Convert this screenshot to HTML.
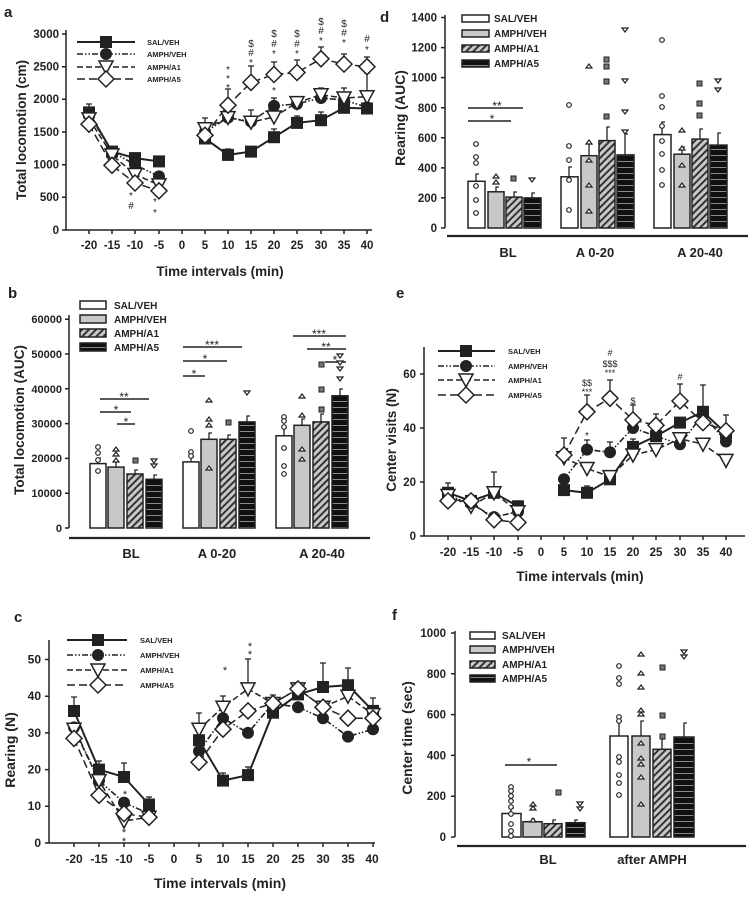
<!DOCTYPE html>
<html><head><meta charset="utf-8"><style>
html,body{margin:0;padding:0;background:#fff;}
svg{display:block;font-family:"Liberation Sans",Arial,sans-serif;font-weight:bold;}
</style></head><body>
<svg width="751" height="899" viewBox="0 0 751 899" xmlns="http://www.w3.org/2000/svg">
<defs>
<pattern id="hatch" width="5" height="5" patternUnits="userSpaceOnUse" patternTransform="rotate(45)">
<rect width="5" height="5" fill="#c8c8c8"/><rect width="2" height="5" fill="#333"/></pattern>
<pattern id="horiz" width="4" height="6" patternUnits="userSpaceOnUse">
<rect width="4" height="6" fill="#111"/><rect y="5" width="4" height="0.7" fill="#bbb"/></pattern>
<g id="sq"><rect x="-6" y="-6" width="12" height="12" fill="#222"/></g>
<g id="ci"><circle r="6" fill="#222"/></g>
<g id="tr"><path d="M-7,-6 L7,-6 L0,7 Z" fill="#fff" stroke="#222" stroke-width="1.5"/></g>
<g id="di"><path d="M0,-8 L8,0 L0,8 L-8,0 Z" fill="#fff" stroke="#222" stroke-width="1.5"/></g>
</defs>

<g fill="#222" font-size="15"><text x="4" y="17">a</text><text x="8" y="298">b</text><text x="14" y="622">c</text><text x="380" y="22">d</text><text x="396" y="298">e</text><text x="392" y="620">f</text></g>

<!-- ===== Panel a ===== -->
<g stroke="#222" stroke-width="1.5" fill="none">
<line x1="66" y1="30" x2="66" y2="230"/><line x1="66" y1="230" x2="372" y2="230"/>
<path d="M62,230h4M62,197.3h4M62,164.7h4M62,132h4M62,99.3h4M62,66.7h4M62,34h4"/>
<path d="M89,230v4M112,230v4M135,230v4M159,230v4M182,230v4M205,230v4M228,230v4M251,230v4M274,230v4M297,230v4M321,230v4M344,230v4M367,230v4"/>
</g>
<g font-size="11.5" fill="#222" text-anchor="end">
<text x="59" y="234">0</text><text x="59" y="201">500</text><text x="59" y="168.7">1000</text><text x="59" y="136">1500</text><text x="59" y="103">2000</text><text x="59" y="70.7">2500</text><text x="59" y="38">3000</text></g>
<g font-size="11.5" fill="#222" text-anchor="middle">
<text x="89" y="249">-20</text><text x="112" y="249">-15</text><text x="135" y="249">-10</text><text x="159" y="249">-5</text><text x="182" y="249">0</text><text x="205" y="249">5</text><text x="228" y="249">10</text><text x="251" y="249">15</text><text x="274" y="249">20</text><text x="297" y="249">25</text><text x="321" y="249">30</text><text x="344" y="249">35</text><text x="367" y="249">40</text>
<text x="220" y="276" font-size="13.5">Time intervals (min)</text>
<text transform="translate(26,130) rotate(-90)" font-size="13.5">Total locomotion (cm)</text></g>
<!-- error bars a -->
<g stroke="#222" stroke-width="1.3" fill="none">
<path d="M89,112v-8h-3h6M112,152v-5M205,132v-14h-3h6M228,105v-16h-3h6M251,82v-16h-3h6M274,74v-12h-3h6M297,72v-12h-3h6M321,59v-12h-3h6M344,64v-10h-3h6M367,67v-10h-3h6M274,106v-8h-3h6M297,104v-8M321,98v-10h-3h6M344,100v-12h-3h6M367,97v-24h-3h6M251,122v-12h-3h6M297,123v-7h-3h6M321,120v-8h-3h6M274,137v-8h-3h6M228,155v-6h-3h6"/>
</g>
<g fill="none" stroke="#222">
<polyline stroke-width="2" points="89,112.4 112,151.6 135,158.1 159,161.4"/>
<polyline stroke-width="2" points="205,138.5 228,154.9 251,151.6 274,137.2 297,122.9 321,120.2 344,107.8 367,108.5"/>
<g stroke-width="1.6" stroke-dasharray="6,2,1.5,2,1.5,2"><polyline points="89,114.4 112,151.6 135,164.7 159,176.4"/><polyline points="205,132 228,117.6 251,121.6 274,105.9 297,103.9 321,98 344,100 367,107.2"/></g>
<g stroke-width="1.5" stroke-dasharray="6,3"><polyline points="89,118.9 112,154.9 135,174.5 159,184.9"/><polyline points="205,128.7 228,117.6 251,122.2 274,117 297,102.6 321,94.8 344,98 367,96.7"/></g>
<g stroke-width="1.5" stroke-dasharray="8,4"><polyline points="89,124.2 112,165.3 135,183 159,190.8"/><polyline points="205,135.3 228,105.2 251,82.4 274,74.5 297,72.5 321,58.8 344,64.1 367,66.7"/></g>
</g>
<use href="#sq" x="89" y="112.4"/><use href="#sq" x="112" y="151.6"/><use href="#sq" x="135" y="158.1"/><use href="#sq" x="159" y="161.4"/><use href="#sq" x="205" y="138.5"/><use href="#sq" x="228" y="154.9"/><use href="#sq" x="251" y="151.6"/><use href="#sq" x="274" y="137.2"/><use href="#sq" x="297" y="122.9"/><use href="#sq" x="321" y="120.2"/><use href="#sq" x="344" y="107.8"/><use href="#sq" x="367" y="108.5"/>
<use href="#ci" x="89" y="114.4"/><use href="#ci" x="112" y="151.6"/><use href="#ci" x="135" y="164.7"/><use href="#ci" x="159" y="176.4"/><use href="#ci" x="205" y="132"/><use href="#ci" x="228" y="117.6"/><use href="#ci" x="251" y="121.6"/><use href="#ci" x="274" y="105.9"/><use href="#ci" x="297" y="103.9"/><use href="#ci" x="321" y="98"/><use href="#ci" x="344" y="100"/><use href="#ci" x="367" y="107.2"/>
<use href="#tr" x="89" y="118.9"/><use href="#tr" x="112" y="154.9"/><use href="#tr" x="135" y="174.5"/><use href="#tr" x="159" y="184.9"/><use href="#tr" x="205" y="128.7"/><use href="#tr" x="228" y="117.6"/><use href="#tr" x="251" y="122.2"/><use href="#tr" x="274" y="117"/><use href="#tr" x="297" y="102.6"/><use href="#tr" x="321" y="94.8"/><use href="#tr" x="344" y="98"/><use href="#tr" x="367" y="96.7"/>
<use href="#di" x="89" y="124.2"/><use href="#di" x="112" y="165.3"/><use href="#di" x="135" y="183"/><use href="#di" x="159" y="190.8"/><use href="#di" x="205" y="135.3"/><use href="#di" x="228" y="105.2"/><use href="#di" x="251" y="82.4"/><use href="#di" x="274" y="74.5"/><use href="#di" x="297" y="72.5"/><use href="#di" x="321" y="58.8"/><use href="#di" x="344" y="64.1"/><use href="#di" x="367" y="66.7"/>
<g font-size="10" fill="#222" text-anchor="middle" font-weight="normal">
<text x="228" y="73">*</text><text x="228" y="82">*</text><text x="228" y="91">*</text>
<text x="251" y="47">$</text><text x="251" y="56">#</text><text x="251" y="66">*</text>
<text x="274" y="37">$</text><text x="274" y="47">#</text><text x="274" y="57">*</text><text x="274" y="94">*</text>
<text x="297" y="37">$</text><text x="297" y="47">#</text><text x="297" y="57">*</text>
<text x="321" y="25">$</text><text x="321" y="34">#</text><text x="321" y="44">*</text>
<text x="344" y="27">$</text><text x="344" y="36">#</text><text x="344" y="46">*</text>
<text x="367" y="42">#</text><text x="367" y="53">*</text>
<text x="131" y="199">*</text><text x="131" y="209">#</text><text x="155" y="205">*</text><text x="155" y="216">*</text></g>
<!-- legend a -->
<g fill="none" stroke="#222"><line x1="77" y1="42" x2="135" y2="42" stroke-width="2"/><line x1="77" y1="54" x2="135" y2="54" stroke-width="1.6" stroke-dasharray="6,2,1.5,2,1.5,2"/><line x1="77" y1="67" x2="135" y2="67" stroke-width="1.5" stroke-dasharray="6,3"/><line x1="77" y1="79" x2="135" y2="79" stroke-width="1.5" stroke-dasharray="8,4"/></g>
<use href="#sq" x="106" y="42"/><use href="#ci" x="106" y="54"/><use href="#tr" x="106" y="67"/><use href="#di" x="106" y="79"/>
<g font-size="7.5" fill="#222"><text x="147" y="45">SAL/VEH</text><text x="147" y="57">AMPH/VEH</text><text x="147" y="70">AMPH/A1</text><text x="147" y="82">AMPH/A5</text></g>

<!-- ===== Panel b ===== -->
<g stroke="#222" stroke-width="1.5" fill="none">
<line x1="69" y1="315" x2="69" y2="528"/><line x1="69" y1="538" x2="370" y2="538" stroke-width="2.2"/>
<path d="M65,528h4M65,493.2h4M65,458.4h4M65,423.6h4M65,388.8h4M65,354h4M65,319.2h4"/></g>
<g font-size="11" fill="#222" text-anchor="end">
<text x="62" y="532">0</text><text x="62" y="497">10000</text><text x="62" y="462">20000</text><text x="62" y="427.6">30000</text><text x="62" y="392.8">40000</text><text x="62" y="358">50000</text><text x="62" y="323">60000</text></g>
<g font-size="13" fill="#222" text-anchor="middle"><text x="131" y="558">BL</text><text x="217" y="558">A 0-20</text><text x="322" y="558">A 20-40</text>
<text transform="translate(24,420) rotate(-90)" font-size="13.5">Total locomotion (AUC)</text></g>
<g stroke="#222" stroke-width="1.5">
<rect x="90" y="463.6" width="16" height="64.4" fill="#fff"/><rect x="108" y="467.1" width="16" height="60.9" fill="#c8c8c8"/><rect x="127" y="474" width="16" height="54" fill="url(#hatch)"/><rect x="146" y="479.3" width="16" height="48.7" fill="url(#horiz)"/>
<rect x="183" y="461.9" width="16" height="66.1" fill="#fff"/><rect x="201" y="439.3" width="16" height="88.7" fill="#c8c8c8"/><rect x="220" y="439.3" width="16" height="88.7" fill="url(#hatch)"/><rect x="239" y="421.9" width="16" height="106.1" fill="url(#horiz)"/>
<rect x="276" y="435.8" width="16" height="92.2" fill="#fff"/><rect x="294" y="425.3" width="16" height="102.7" fill="#c8c8c8"/><rect x="313" y="421.9" width="16" height="106.1" fill="url(#hatch)"/><rect x="332" y="395.8" width="16" height="132.2" fill="url(#horiz)"/>
</g>
<g stroke="#222" stroke-width="1.3" fill="none"><path d="M98,463v-5h3M116,467v-6h3M135,474v-4h3M154,479v-4h3M191,462v-5h3M209,439v-6h3M228,439v-4h3M247,422v-6h3M284,436v-8h3M302,425v-6h3M321,422v-8h3M340,396v-7h3"/>
<path d="M100,399h49M100,412h31M117,424h18M183,347h59M183,361h44M183,376h22M293,336h53M307,349h39M325,362h21" stroke-width="1.6"/></g>
<g font-size="12" fill="#222" text-anchor="middle" font-weight="normal"><text x="124" y="401">**</text><text x="116" y="414">*</text><text x="126" y="426">*</text><text x="212" y="349">***</text><text x="205" y="363">*</text><text x="194" y="378">*</text><text x="319" y="338">***</text><text x="326" y="351">**</text><text x="335" y="364">*</text></g>
<g fill="#fff" stroke="#222" stroke-width="1.2">
<circle cx="98" cy="447" r="2.3"/><circle cx="98" cy="453" r="2.3"/><circle cx="98" cy="460" r="2.3"/><circle cx="98" cy="471" r="2.3"/>
<circle cx="191" cy="431" r="2.3"/><circle cx="191" cy="452" r="2.3"/><circle cx="191" cy="456" r="2.3"/><circle cx="284" cy="417" r="2.3"/><circle cx="284" cy="421" r="2.3"/><circle cx="284" cy="427" r="2.3"/><circle cx="284" cy="448" r="2.3"/><circle cx="284" cy="466" r="2.3"/><circle cx="284" cy="474" r="2.3"/>
<path d="M113,451l3,-4l3,4zM113,456l3,-4l3,4zM113,462l3,-4l3,4zM206,402l3,-4l3,4zM206,421l3,-4l3,4zM206,427l3,-4l3,4zM206,470l3,-4l3,4zM299,398l3,-4l3,4zM299,417l3,-4l3,4zM299,451l3,-4l3,4zM299,461l3,-4l3,4z"/>
<path d="M151,459l3,4l3,-4zM151,464l3,4l3,-4zM244,391l3,4l3,-4zM337,354l3,4l3,-4zM337,361l3,4l3,-4zM337,367l3,4l3,-4zM337,377l3,4l3,-4z"/>
</g>
<g fill="#777" stroke="#222" stroke-width="1"><rect x="133" y="458" width="5" height="5"/><rect x="226" y="420" width="5" height="5"/><rect x="319" y="362" width="5" height="5"/><rect x="319" y="387" width="5" height="5"/><rect x="319" y="407" width="5" height="5"/></g>
<g stroke="#222" stroke-width="1.5"><rect x="80" y="301" width="26" height="8" fill="#fff"/><rect x="80" y="315" width="26" height="8" fill="#c8c8c8"/><rect x="80" y="329" width="26" height="8" fill="url(#hatch)"/><rect x="80" y="343" width="26" height="8" fill="url(#horiz)"/></g>
<g font-size="10" fill="#222"><text x="114" y="309">SAL/VEH</text><text x="114" y="323">AMPH/VEH</text><text x="114" y="337">AMPH/A1</text><text x="114" y="351">AMPH/A5</text></g>

<!-- ===== Panel c ===== -->
<g stroke="#222" stroke-width="1.5" fill="none">
<line x1="49" y1="640" x2="49" y2="843"/><line x1="49" y1="843" x2="375" y2="843"/>
<path d="M45,843h4M45,806.3h4M45,769.6h4M45,732.9h4M45,696.2h4M45,659.5h4"/>
<path d="M74,843v4M99,843v4M124,843v4M149,843v4M174,843v4M199,843v4M223,843v4M248,843v4M273,843v4M298,843v4M323,843v4M348,843v4M373,843v4"/></g>
<g font-size="12" fill="#222" text-anchor="end"><text x="41" y="847">0</text><text x="41" y="810">10</text><text x="41" y="773.6">20</text><text x="41" y="737">30</text><text x="41" y="700">40</text><text x="41" y="663.5">50</text></g>
<g font-size="12" fill="#222" text-anchor="middle">
<text x="74" y="863">-20</text><text x="99" y="863">-15</text><text x="124" y="863">-10</text><text x="149" y="863">-5</text><text x="174" y="863">0</text><text x="199" y="863">5</text><text x="223" y="863">10</text><text x="248" y="863">15</text><text x="273" y="863">20</text><text x="298" y="863">25</text><text x="323" y="863">30</text><text x="348" y="863">35</text><text x="372" y="863">40</text>
<text x="220" y="888" font-size="14">Time intervals (min)</text>
<text transform="translate(15,750) rotate(-90)" font-size="14">Rearing (N)</text></g>
<g stroke="#222" stroke-width="1.3" fill="none"><path d="M74,711v-14h-3h6M99,770v-9h-3h6M124,777v-14h-3h6M149,804v-7h-3h6M199,740v-27h-3h6M223,718v-22h-3h6M248,689v-30h-3h6M273,713v-18h-3h6M298,694v-10h-3h6M323,687v-24h-3h6M348,685v-17h-3h6M373,711v-13h-3h6M223,781v-8h-3h6M248,775v-8h-3h6"/></g>
<g fill="none" stroke="#222">
<polyline stroke-width="2" points="74,711 99,769.6 124,777 149,804.5"/><polyline stroke-width="2" points="199,740.2 223,780.6 248,775.1 273,712.7 298,694.4 323,687 348,685.2 373,710.9"/>
<g stroke-width="1.6" stroke-dasharray="6,2,1.5,2,1.5,2"><polyline points="74,727.4 99,780.6 124,802.6 149,813.6"/><polyline points="199,751.3 223,718.2 248,732.9 273,703.5 298,707.2 323,718.2 348,736.6 373,729.2"/></g>
<g stroke-width="1.5" stroke-dasharray="6,3"><polyline points="74,729.2 99,780.6 124,821 149,817.3"/><polyline points="199,729.2 223,707.2 248,688.9 273,703.5 298,688.9 323,707.2 348,696.2 373,714.6"/></g>
<g stroke-width="1.5" stroke-dasharray="8,4"><polyline points="74,738.4 99,795.3 124,813.6 149,817.3"/><polyline points="199,762.3 223,729.2 248,710.9 273,703.5 298,688.9 323,707.2 348,718.2 373,718.2"/></g></g>
<use href="#sq" x="74" y="711"/><use href="#sq" x="99" y="769.6"/><use href="#sq" x="124" y="777"/><use href="#sq" x="149" y="804.5"/><use href="#sq" x="199" y="740.2"/><use href="#sq" x="223" y="780.6"/><use href="#sq" x="248" y="775.1"/><use href="#sq" x="273" y="712.7"/><use href="#sq" x="298" y="694.4"/><use href="#sq" x="323" y="687"/><use href="#sq" x="348" y="685.2"/><use href="#sq" x="373" y="710.9"/>
<use href="#ci" x="74" y="727.4"/><use href="#ci" x="99" y="780.6"/><use href="#ci" x="124" y="802.6"/><use href="#ci" x="149" y="813.6"/><use href="#ci" x="199" y="751.3"/><use href="#ci" x="223" y="718.2"/><use href="#ci" x="248" y="732.9"/><use href="#ci" x="273" y="703.5"/><use href="#ci" x="298" y="707.2"/><use href="#ci" x="323" y="718.2"/><use href="#ci" x="348" y="736.6"/><use href="#ci" x="373" y="729.2"/>
<use href="#tr" x="74" y="729.2"/><use href="#tr" x="99" y="780.6"/><use href="#tr" x="124" y="821"/><use href="#tr" x="149" y="817.3"/><use href="#tr" x="199" y="729.2"/><use href="#tr" x="223" y="707.2"/><use href="#tr" x="248" y="688.9"/><use href="#tr" x="273" y="703.5"/><use href="#tr" x="298" y="688.9"/><use href="#tr" x="323" y="707.2"/><use href="#tr" x="348" y="696.2"/><use href="#tr" x="373" y="714.6"/>
<use href="#di" x="74" y="738.4"/><use href="#di" x="99" y="795.3"/><use href="#di" x="124" y="813.6"/><use href="#di" x="149" y="817.3"/><use href="#di" x="199" y="762.3"/><use href="#di" x="223" y="729.2"/><use href="#di" x="248" y="710.9"/><use href="#di" x="273" y="703.5"/><use href="#di" x="298" y="688.9"/><use href="#di" x="323" y="707.2"/><use href="#di" x="348" y="718.2"/><use href="#di" x="373" y="718.2"/>
<g font-size="11" fill="#222" text-anchor="middle" font-weight="normal"><text x="225" y="674">*</text><text x="250" y="650">*</text><text x="250" y="658">*</text><text x="125" y="798">*</text><text x="124" y="836">*</text><text x="124" y="845">*</text></g>
<g fill="none" stroke="#222"><line x1="67" y1="640" x2="127" y2="640" stroke-width="2"/><line x1="67" y1="655" x2="127" y2="655" stroke-width="1.6" stroke-dasharray="6,2,1.5,2,1.5,2"/><line x1="67" y1="670" x2="127" y2="670" stroke-width="1.5" stroke-dasharray="6,3"/><line x1="67" y1="685" x2="127" y2="685" stroke-width="1.5" stroke-dasharray="8,4"/></g>
<use href="#sq" x="98" y="640"/><use href="#ci" x="98" y="655"/><use href="#tr" x="98" y="670"/><use href="#di" x="98" y="685"/>
<g font-size="7.5" fill="#222"><text x="140" y="643">SAL/VEH</text><text x="140" y="658">AMPH/VEH</text><text x="140" y="673">AMPH/A1</text><text x="140" y="688">AMPH/A5</text></g>

<!-- ===== Panel d ===== -->
<g stroke="#222" stroke-width="1.5" fill="none">
<line x1="445" y1="15" x2="445" y2="228"/><line x1="447" y1="236" x2="748" y2="236" stroke-width="2.2"/>
<path d="M441,228h4M441,197.9h4M441,167.9h4M441,137.8h4M441,107.7h4M441,77.6h4M441,47.6h4M441,17.5h4"/></g>
<g font-size="11.5" fill="#222" text-anchor="end"><text x="437" y="232">0</text><text x="437" y="202">200</text><text x="437" y="172">400</text><text x="437" y="142">600</text><text x="437" y="112">800</text><text x="437" y="81.6">1000</text><text x="437" y="51.6">1200</text><text x="437" y="21.5">1400</text></g>
<g font-size="13" fill="#222" text-anchor="middle"><text x="508" y="257">BL</text><text x="595" y="257">A 0-20</text><text x="700" y="257">A 20-40</text>
<text transform="translate(405,118) rotate(-90)" font-size="14">Rearing (AUC)</text></g>
<g stroke="#222" stroke-width="1.5">
<rect x="468" y="181.3" width="17" height="46.7" fill="#fff"/><rect x="488" y="191.8" width="16" height="36.2" fill="#c8c8c8"/><rect x="506" y="197.1" width="16" height="30.9" fill="url(#hatch)"/><rect x="524" y="197.9" width="17" height="30.1" fill="url(#horiz)"/>
<rect x="561" y="176.8" width="17" height="51.2" fill="#fff"/><rect x="581" y="155.7" width="16" height="72.3" fill="#c8c8c8"/><rect x="599" y="140.6" width="16" height="87.4" fill="url(#hatch)"/><rect x="617" y="154.9" width="17" height="73.1" fill="url(#horiz)"/>
<rect x="654" y="134.6" width="17" height="93.4" fill="#fff"/><rect x="674" y="154.2" width="16" height="73.8" fill="#c8c8c8"/><rect x="692" y="139.1" width="16" height="88.9" fill="url(#hatch)"/><rect x="710" y="145.1" width="17" height="82.9" fill="url(#horiz)"/></g>
<g stroke="#222" stroke-width="1.3" fill="none"><path d="M476,181v-7h3M496,192v-5h3M514,197v-5h3M532,198v-5h3M569,177v-10h3M589,156v-12h3M607,141v-14h3M625,155v-21h3M662,135v-13h3M682,154v-7h3M700,139v-10h3M718,145v-12h3"/>
<path d="M468,108h55M468,121h43" stroke-width="1.6"/></g>
<g font-size="12" fill="#222" text-anchor="middle" font-weight="normal"><text x="497" y="110">**</text><text x="492" y="123">*</text></g>
<g fill="#fff" stroke="#222" stroke-width="1.2">
<circle cx="476" cy="144" r="2.3"/><circle cx="476" cy="157" r="2.3"/><circle cx="476" cy="163" r="2.3"/><circle cx="476" cy="186" r="2.3"/><circle cx="476" cy="200" r="2.3"/><circle cx="476" cy="213" r="2.3"/>
<circle cx="569" cy="105" r="2.3"/><circle cx="569" cy="146" r="2.3"/><circle cx="569" cy="160" r="2.3"/><circle cx="569" cy="180" r="2.3"/><circle cx="569" cy="210" r="2.3"/>
<circle cx="662" cy="40" r="2.3"/><circle cx="662" cy="96" r="2.3"/><circle cx="662" cy="107" r="2.3"/><circle cx="662" cy="126" r="2.3"/><circle cx="662" cy="141" r="2.3"/><circle cx="662" cy="154" r="2.3"/><circle cx="662" cy="170" r="2.3"/><circle cx="662" cy="185" r="2.3"/>
<path d="M493,178l3,-4l3,4zM493,184l3,-4l3,4zM586,68l3,-4l3,4zM586,144l3,-4l3,4zM586,162l3,-4l3,4zM586,187l3,-4l3,4zM586,213l3,-4l3,4zM679,132l3,-4l3,4zM679,150l3,-4l3,4zM679,167l3,-4l3,4zM679,187l3,-4l3,4z"/>
<path d="M529,178l3,4l3,-4zM622,28l3,4l3,-4zM622,79l3,4l3,-4zM622,110l3,4l3,-4zM622,130l3,4l3,-4zM715,79l3,4l3,-4zM715,88l3,4l3,-4z"/></g>
<g fill="#777" stroke="#222" stroke-width="1"><rect x="511" y="176" width="5" height="5"/><rect x="604" y="57" width="5" height="5"/><rect x="604" y="64" width="5" height="5"/><rect x="604" y="79" width="5" height="5"/><rect x="604" y="114" width="5" height="5"/><rect x="697" y="81" width="5" height="5"/><rect x="697" y="101" width="5" height="5"/><rect x="697" y="113" width="5" height="5"/></g>
<g stroke="#222" stroke-width="1.5"><rect x="462" y="15" width="27" height="7" fill="#fff"/><rect x="462" y="30" width="27" height="7" fill="#c8c8c8"/><rect x="462" y="45" width="27" height="7" fill="url(#hatch)"/><rect x="462" y="60" width="27" height="7" fill="url(#horiz)"/></g>
<g font-size="10" fill="#222"><text x="494" y="22">SAL/VEH</text><text x="494" y="37">AMPH/VEH</text><text x="494" y="52">AMPH/A1</text><text x="494" y="67">AMPH/A5</text></g>

<!-- ===== Panel e ===== -->
<g stroke="#222" stroke-width="1.5" fill="none">
<line x1="424" y1="347" x2="424" y2="536"/><line x1="424" y1="536" x2="745" y2="536"/>
<path d="M420,536h4M420,482h4M420,428h4M420,374h4"/>
<path d="M448,536v4M471,536v4M494,536v4M518,536v4M541,536v4M564,536v4M587,536v4M610,536v4M633,536v4M656,536v4M680,536v4M703,536v4M726,536v4"/></g>
<g font-size="11.5" fill="#222" text-anchor="end"><text x="416" y="540">0</text><text x="416" y="486">20</text><text x="416" y="432">40</text><text x="416" y="378">60</text></g>
<g font-size="11.5" fill="#222" text-anchor="middle">
<text x="448" y="556">-20</text><text x="471" y="556">-15</text><text x="494" y="556">-10</text><text x="518" y="556">-5</text><text x="541" y="556">0</text><text x="564" y="556">5</text><text x="587" y="556">10</text><text x="610" y="556">15</text><text x="633" y="556">20</text><text x="656" y="556">25</text><text x="680" y="556">30</text><text x="703" y="556">35</text><text x="726" y="556">40</text>
<text x="580" y="581" font-size="13.5">Time intervals (min)</text>
<text transform="translate(396,440) rotate(-90)" font-size="13.5">Center visits (N)</text></g>
<g stroke="#222" stroke-width="1.3" fill="none"><path d="M448,493v-10h-3h6M471,501v-6h-3h6M494,493v-21h-3h6M518,506v-5h-3h6M564,455v-17h-3h6M587,412v-17h-3h6M610,398v-18h-3h6M633,420v-15h-3h6M656,425v-11h-3h6M680,401v-17h-3h6M703,412v-27h-3h6M726,431v-16h-3h6M587,450v-10h-3h6M610,452v-10h-3h6M633,447v-8h-3h6M610,479v-8h-3h6M587,493v-7h-3h6"/></g>
<g fill="none" stroke="#222">
<polyline stroke-width="2" points="448,492.8 471,500.9 494,492.8 518,506.3"/><polyline stroke-width="2" points="564,490.1 587,492.8 610,479.3 633,446.9 656,436.1 680,422.6 703,411.8 726,433.4"/>
<g stroke-width="1.6" stroke-dasharray="6,2,1.5,2,1.5,2"><polyline points="448,495.5 471,503.6 494,517.1 518,511.7"/><polyline points="564,479.3 587,449.6 610,452.3 633,428 656,436.1 680,444.2 703,414.5 726,441.5"/></g>
<g stroke-width="1.5" stroke-dasharray="6,3"><polyline points="448,495.5 471,506.3 494,492.8 518,511.7"/><polyline points="564,457.7 587,468.5 610,476.6 633,455 656,449.6 680,438.8 703,444.2 726,460.4"/></g>
<g stroke-width="1.5" stroke-dasharray="8,4"><polyline points="448,500.9 471,500.9 494,519.8 518,522.5"/><polyline points="564,455 587,411.8 610,398.3 633,419.9 656,425.3 680,401 703,422.6 726,430.7"/></g></g>
<use href="#sq" x="448" y="492.8"/><use href="#sq" x="471" y="500.9"/><use href="#sq" x="494" y="492.8"/><use href="#sq" x="518" y="506.3"/><use href="#sq" x="564" y="490.1"/><use href="#sq" x="587" y="492.8"/><use href="#sq" x="610" y="479.3"/><use href="#sq" x="633" y="446.9"/><use href="#sq" x="656" y="436.1"/><use href="#sq" x="680" y="422.6"/><use href="#sq" x="703" y="411.8"/><use href="#sq" x="726" y="433.4"/>
<use href="#ci" x="448" y="495.5"/><use href="#ci" x="471" y="503.6"/><use href="#ci" x="494" y="517.1"/><use href="#ci" x="518" y="511.7"/><use href="#ci" x="564" y="479.3"/><use href="#ci" x="587" y="449.6"/><use href="#ci" x="610" y="452.3"/><use href="#ci" x="633" y="428"/><use href="#ci" x="656" y="436.1"/><use href="#ci" x="680" y="444.2"/><use href="#ci" x="703" y="414.5"/><use href="#ci" x="726" y="441.5"/>
<use href="#tr" x="448" y="495.5"/><use href="#tr" x="471" y="506.3"/><use href="#tr" x="494" y="492.8"/><use href="#tr" x="518" y="511.7"/><use href="#tr" x="564" y="457.7"/><use href="#tr" x="587" y="468.5"/><use href="#tr" x="610" y="476.6"/><use href="#tr" x="633" y="455"/><use href="#tr" x="656" y="449.6"/><use href="#tr" x="680" y="438.8"/><use href="#tr" x="703" y="444.2"/><use href="#tr" x="726" y="460.4"/>
<use href="#di" x="448" y="500.9"/><use href="#di" x="471" y="500.9"/><use href="#di" x="494" y="519.8"/><use href="#di" x="518" y="522.5"/><use href="#di" x="564" y="455"/><use href="#di" x="587" y="411.8"/><use href="#di" x="610" y="398.3"/><use href="#di" x="633" y="419.9"/><use href="#di" x="656" y="425.3"/><use href="#di" x="680" y="401"/><use href="#di" x="703" y="422.6"/><use href="#di" x="726" y="430.7"/>
<g font-size="9" fill="#222" text-anchor="middle" font-weight="normal"><text x="587" y="386">$$</text><text x="587" y="395">***</text><text x="610" y="356">#</text><text x="610" y="367">$$$</text><text x="610" y="376">***</text><text x="633" y="404">$</text><text x="680" y="380">#</text><text x="587" y="439" font-size="10">*</text></g>
<g fill="none" stroke="#222"><line x1="438" y1="351" x2="495" y2="351" stroke-width="2"/><line x1="438" y1="366" x2="495" y2="366" stroke-width="1.6" stroke-dasharray="6,2,1.5,2,1.5,2"/><line x1="438" y1="380" x2="495" y2="380" stroke-width="1.5" stroke-dasharray="6,3"/><line x1="438" y1="395" x2="495" y2="395" stroke-width="1.5" stroke-dasharray="8,4"/></g>
<use href="#sq" x="466" y="351"/><use href="#ci" x="466" y="366"/><use href="#tr" x="466" y="380"/><use href="#di" x="466" y="395"/>
<g font-size="7.5" fill="#222"><text x="508" y="354">SAL/VEH</text><text x="508" y="369">AMPH/VEH</text><text x="508" y="383">AMPH/A1</text><text x="508" y="398">AMPH/A5</text></g>

<!-- ===== Panel f ===== -->
<g stroke="#222" stroke-width="1.5" fill="none">
<line x1="455" y1="631" x2="455" y2="837"/><line x1="457" y1="846" x2="746" y2="846" stroke-width="2.2"/>
<path d="M451,837h4M451,796.2h4M451,755.4h4M451,714.6h4M451,673.8h4M451,633h4"/></g>
<g font-size="11.5" fill="#222" text-anchor="end"><text x="446" y="841">0</text><text x="446" y="800">200</text><text x="446" y="759.4">400</text><text x="446" y="718.6">600</text><text x="446" y="677.8">800</text><text x="446" y="637">1000</text></g>
<g font-size="13" fill="#222" text-anchor="middle"><text x="548" y="864">BL</text><text x="652" y="864">after AMPH</text>
<text transform="translate(412,738) rotate(-90)" font-size="14">Center time (sec)</text></g>
<g stroke="#222" stroke-width="1.5">
<rect x="502" y="813.5" width="19" height="23.5" fill="#fff"/><rect x="523" y="821.7" width="19" height="15.3" fill="#c8c8c8"/><rect x="544" y="823.7" width="18" height="13.3" fill="url(#hatch)"/><rect x="566" y="822.7" width="19" height="14.3" fill="url(#horiz)"/>
<rect x="610" y="736" width="18" height="101" fill="#fff"/><rect x="632" y="736" width="18" height="101" fill="#c8c8c8"/><rect x="653" y="749.3" width="18" height="87.7" fill="url(#hatch)"/><rect x="674" y="737" width="20" height="100" fill="url(#horiz)"/></g>
<g stroke="#222" stroke-width="1.3" fill="none"><path d="M511,813v-5h3M532,822v-3h3M553,824v-4h3M575,823v-3h3M619,736v-15h3M641,736v-15h3M662,749v-10h3M684,737v-14h3"/><path d="M505,765h52" stroke-width="1.6"/></g>
<text x="529" y="766" font-size="12" fill="#222" text-anchor="middle" font-weight="normal">*</text>
<g fill="#fff" stroke="#222" stroke-width="1.2">
<circle cx="511" cy="787" r="2.3"/><circle cx="511" cy="791" r="2.3"/><circle cx="511" cy="796" r="2.3"/><circle cx="511" cy="801" r="2.3"/><circle cx="511" cy="807" r="2.3"/><circle cx="511" cy="814" r="2.3"/><circle cx="511" cy="824" r="2.3"/><circle cx="511" cy="831" r="2.3"/><circle cx="511" cy="836" r="2.3"/>
<circle cx="619" cy="666" r="2.3"/><circle cx="619" cy="678" r="2.3"/><circle cx="619" cy="684" r="2.3"/><circle cx="619" cy="717" r="2.3"/><circle cx="619" cy="721" r="2.3"/><circle cx="619" cy="757" r="2.3"/><circle cx="619" cy="762" r="2.3"/><circle cx="619" cy="775" r="2.3"/><circle cx="619" cy="783" r="2.3"/><circle cx="619" cy="795" r="2.3"/>
<path d="M530,806l3,-4l3,4zM530,810l3,-4l3,4zM530,822l3,-4l3,4zM638,656l3,-4l3,4zM638,675l3,-4l3,4zM638,689l3,-4l3,4zM638,712l3,-4l3,4zM638,716l3,-4l3,4zM638,745l3,-4l3,4zM638,760l3,-4l3,4zM638,766l3,-4l3,4zM638,779l3,-4l3,4zM638,806l3,-4l3,4z"/>
<path d="M577,802l3,4l3,-4zM577,807l3,4l3,-4zM681,650l3,4l3,-4zM681,655l3,4l3,-4z"/></g>
<g fill="#777" stroke="#222" stroke-width="1"><rect x="556" y="790" width="5" height="5"/><rect x="660" y="665" width="5" height="5"/><rect x="660" y="713" width="5" height="5"/><rect x="660" y="734" width="5" height="5"/></g>
<g stroke="#222" stroke-width="1.5"><rect x="470" y="632" width="25" height="7" fill="#fff"/><rect x="470" y="646" width="25" height="7" fill="#c8c8c8"/><rect x="470" y="661" width="25" height="7" fill="url(#hatch)"/><rect x="470" y="675" width="25" height="7" fill="url(#horiz)"/></g>
<g font-size="10" fill="#222"><text x="502" y="639">SAL/VEH</text><text x="502" y="653">AMPH/VEH</text><text x="502" y="668">AMPH/A1</text><text x="502" y="682">AMPH/A5</text></g>
</svg>
</body></html>
